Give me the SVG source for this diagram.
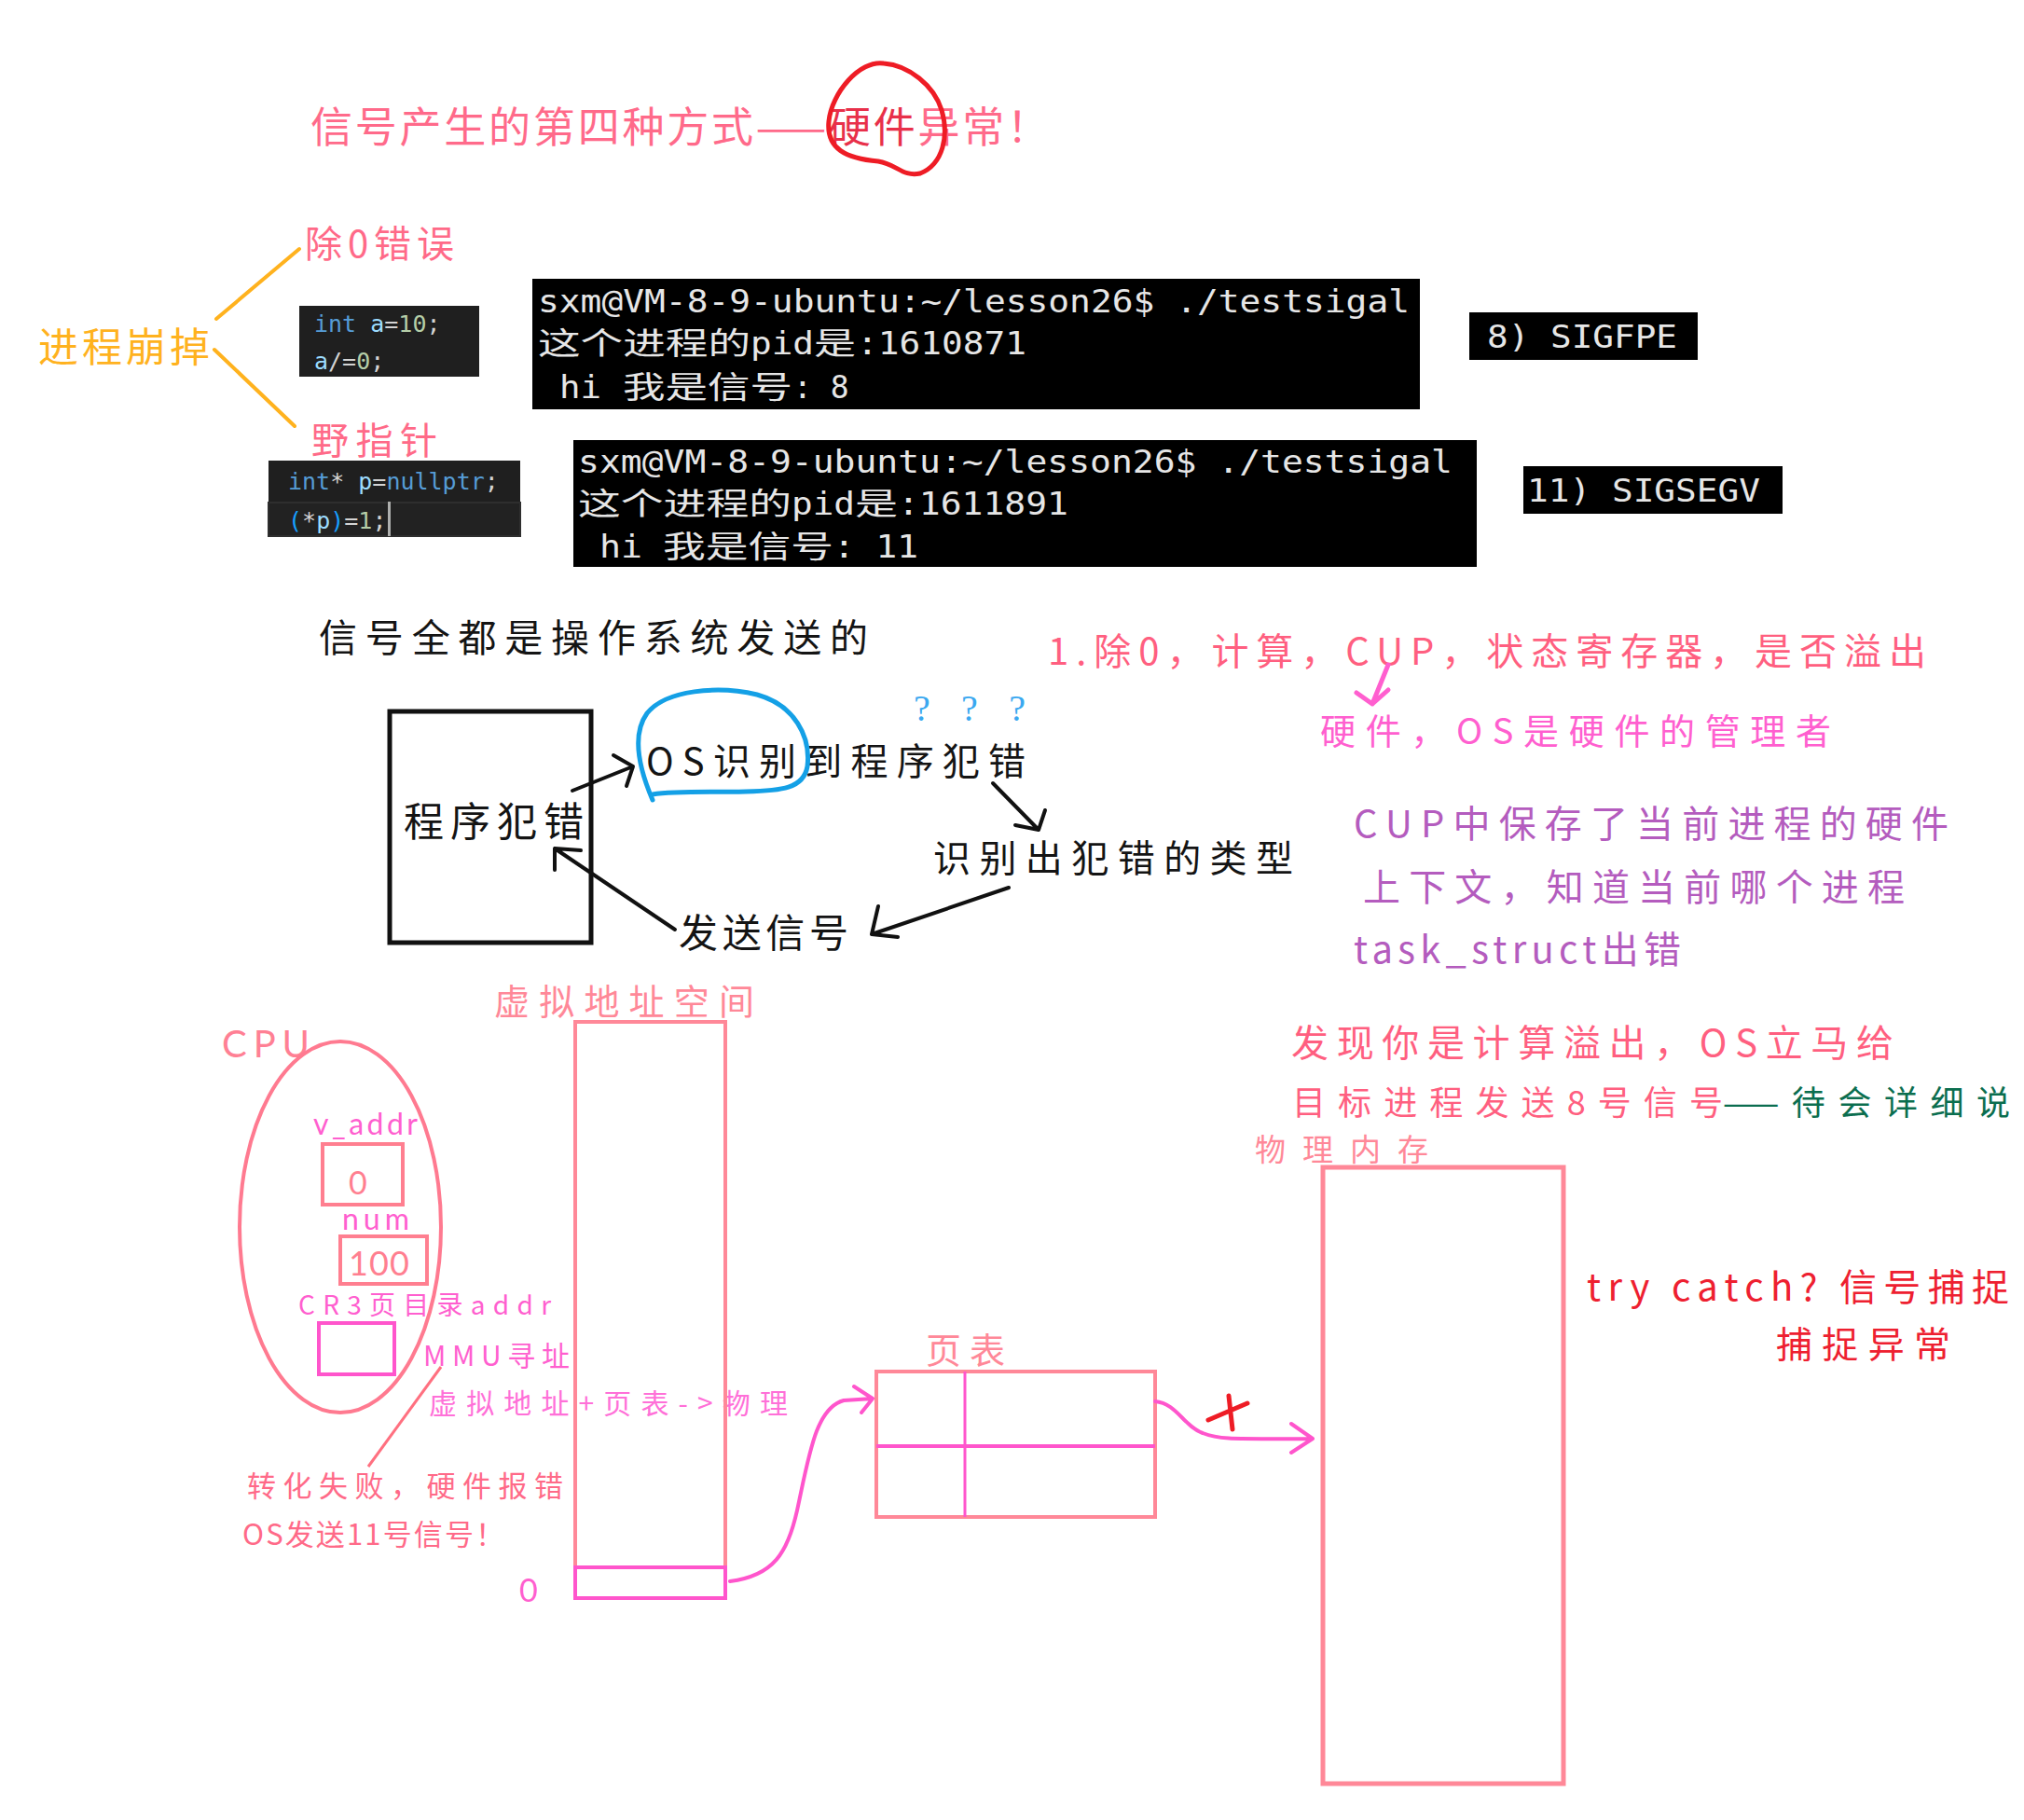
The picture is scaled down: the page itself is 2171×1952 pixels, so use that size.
<svg xmlns="http://www.w3.org/2000/svg" width="2171" height="1952" viewBox="0 0 2171 1952">
<style>
.hw{font-family:"Noto Sans CJK SC","Noto Sans",sans-serif;}
.lat{font-family:Lato,"Noto Sans",sans-serif;}
.mono{font-family:"DejaVu Sans Mono","Noto Sans CJK SC",monospace;}
.term{fill:#e6e6e6;font-size:33px;}
.code{font-size:25px;}
.pk{fill:#ff6a88;}
.mg{fill:#ff5fcf;}
.lp{fill:#ff8898;}
.pu{fill:#b45cbe;}
.bk{fill:#141414;}
.rd{fill:#ee2030;}
.kw{fill:#569cd6;}
.vr{fill:#9cdcfe;}
.nm{fill:#b5cea8;}
.op{fill:#d4d4d4;}
.br{fill:#179fff;}
.box{fill:none;stroke:#ff8898;stroke-width:4;}
.mbox{fill:none;stroke:#ff55cc;stroke-width:4;}
.blk{fill:none;stroke:#111;stroke-width:4;stroke-linecap:round;stroke-linejoin:round;}
</style>
<rect width="2171" height="1952" fill="#ffffff"/>

<g id="title">
<text class="hw" x="333" y="153" font-size="45" textLength="792" fill="#ff6a8a">信号产生的第四种方式——<tspan fill="#e8304a">硬件</tspan>异常！</text>
<path d="M948,68 C975,70 1002,92 1010,118 C1018,145 1012,176 987,186 C968,190 962,176 942,173 C908,170 886,160 889,130 C892,100 922,64 948,68 Z" fill="none" stroke="#ee1c25" stroke-width="5"/>
</g>

<g id="crash">
<text class="hw" x="41" y="388" font-size="43" textLength="184" fill="#ffb21e">进程崩掉</text>
<text class="hw pk" x="327" y="276" font-size="40" textLength="160">除0错误</text>
<text class="hw pk" x="334" y="487" font-size="40" textLength="135">野指针</text>
</g>

<g id="code1">
<rect x="321" y="328" width="193" height="76" fill="#1f1f1f"/>
<text class="mono code" x="337" y="356"><tspan class="kw">int</tspan><tspan class="op"> </tspan><tspan class="vr">a</tspan><tspan class="op">=</tspan><tspan class="nm">10</tspan><tspan class="op">;</tspan></text>
<text class="mono code" x="337" y="396"><tspan class="vr">a</tspan><tspan class="op">/=</tspan><tspan class="nm">0</tspan><tspan class="op">;</tspan></text>
</g>

<g id="code2">
<rect x="288" y="494" width="270" height="82" fill="#1f1f1f"/>
<rect x="288" y="539" width="270" height="36" fill="#222222" stroke="#2e2e2e" stroke-width="2"/>
<text class="mono code" x="309" y="525"><tspan class="kw">int</tspan><tspan class="op">* </tspan><tspan class="vr">p</tspan><tspan class="op">=</tspan><tspan class="kw">nullptr</tspan><tspan class="op">;</tspan></text>
<text class="mono code" x="309" y="567"><tspan class="br">(</tspan><tspan class="op">*</tspan><tspan class="vr">p</tspan><tspan class="br">)</tspan><tspan class="op">=</tspan><tspan class="nm">1</tspan><tspan class="op">;</tspan></text>
<rect x="416" y="538" width="3" height="37" fill="#aeafad"/>
</g>

<g id="terminal1">
<rect x="571" y="299" width="952" height="140" fill="#000"/>
<text class="mono term" x="577" y="335" textLength="935" lengthAdjust="spacingAndGlyphs">sxm@VM-8-9-ubuntu:~/lesson26$ ./testsigal</text>
<text class="mono term" x="577" y="380" textLength="228" lengthAdjust="spacingAndGlyphs">这个进程的</text>
<text class="mono term" x="805" y="380" textLength="68" lengthAdjust="spacingAndGlyphs">pid</text>
<text class="mono term" x="873" y="380" textLength="45" lengthAdjust="spacingAndGlyphs">是</text>
<text class="mono term" x="919" y="380" textLength="182" lengthAdjust="spacingAndGlyphs">:1610871</text>
<text class="mono term" x="600" y="427" textLength="45" lengthAdjust="spacingAndGlyphs">hi</text>
<text class="mono term" x="668" y="427" textLength="182" lengthAdjust="spacingAndGlyphs">我是信号</text>
<text class="mono term" x="851" y="427">: 8</text>
</g>

<g id="terminal2">
<rect x="615" y="472" width="969" height="136" fill="#000"/>
<text class="mono term" x="620" y="507" textLength="938" lengthAdjust="spacingAndGlyphs">sxm@VM-8-9-ubuntu:~/lesson26$ ./testsigal</text>
<text class="mono term" x="620" y="552" textLength="229" lengthAdjust="spacingAndGlyphs">这个进程的</text>
<text class="mono term" x="849" y="552" textLength="68" lengthAdjust="spacingAndGlyphs">pid</text>
<text class="mono term" x="917" y="552" textLength="46" lengthAdjust="spacingAndGlyphs">是</text>
<text class="mono term" x="963" y="552" textLength="183" lengthAdjust="spacingAndGlyphs">:1611891</text>
<text class="mono term" x="643" y="598" textLength="46" lengthAdjust="spacingAndGlyphs">hi</text>
<text class="mono term" x="711" y="598" textLength="183" lengthAdjust="spacingAndGlyphs">我是信号</text>
<text class="mono term" x="894" y="598" textLength="91" lengthAdjust="spacingAndGlyphs">: 11</text>
</g>

<g id="sig8">
<rect x="1576" y="335" width="245" height="51" fill="#000"/>
<text class="mono term" x="1595" y="373" textLength="204" lengthAdjust="spacingAndGlyphs">8) SIGFPE</text>
</g>
<g id="sig11">
<rect x="1634" y="500" width="278" height="51" fill="#000"/>
<text class="mono term" x="1638" y="538" textLength="250" lengthAdjust="spacingAndGlyphs">11) SIGSEGV</text>
</g>

<g id="flow">
<text class="hw bk" x="342" y="699" font-size="41" textLength="589">信号全都是操作系统发送的</text>
<g id="prog-box">
<rect x="418" y="763" width="216" height="248" fill="none" stroke="#111" stroke-width="5"/>
<text class="hw bk" x="433" y="897" font-size="43" textLength="193">程序犯错</text>
</g>
<g id="os-detect">
<text class="hw bk" x="693" y="831" font-size="40" textLength="407">OS识别到程序犯错</text>
<path d="M700,858 C688,830 676,790 694,765 C714,740 770,735 812,745 C852,756 870,790 866,822 C862,846 838,848 800,849 C760,850 725,848 700,852" fill="none" stroke="#14a0e6" stroke-width="5" stroke-linecap="round"/>
<text x="980" y="773" font-family="Liberation Serif, serif" font-size="40" textLength="120" fill="#3aa8f0">? ? ?</text>
</g>
<g id="type">
<text class="hw bk" x="1001" y="935" font-size="40" textLength="386">识别出犯错的类型</text>
</g>
<g id="send">
<text class="hw bk" x="728" y="1016" font-size="42" textLength="182">发送信号</text>
</g>
</g>

<g id="hw-notes">
<text class="hw" x="1124" y="713" font-size="40" textLength="942" fill="#ff5f80">1.除0，计算，CUP，状态寄存器，是否溢出</text>
<text class="hw mg" x="1416" y="798" font-size="38" textLength="548">硬件，OS是硬件的管理者</text>
<text class="hw pu" x="1452" y="898" font-size="40" textLength="638">CUP中保存了当前进程的硬件</text>
<text class="hw pu" x="1462" y="966" font-size="40" textLength="581">上下文，知道当前哪个进程</text>
<text class="hw pu" x="1452" y="1033" font-size="40" textLength="351">task_struct出错</text>
</g>

<g id="cpu">
<text class="lat" x="238" y="1134" font-size="40" textLength="94" fill="#ff8094">CPU</text>
<ellipse cx="365" cy="1316" rx="108" ry="199" fill="none" stroke="#ff7a90" stroke-width="4"/>
<text class="lat mg" x="336" y="1217" font-size="32" textLength="112">v_addr</text>
<rect x="346" y="1227" width="86" height="65" fill="none" stroke="#ff7f90" stroke-width="4"/>
<text class="lat" x="374" y="1281" font-size="34" fill="#ff7f90">0</text>
<text class="lat mg" x="367" y="1319" font-size="32" textLength="72">num</text>
<rect x="365" y="1326" width="93" height="51" fill="none" stroke="#ff7f90" stroke-width="4"/>
<text class="lat" x="374" y="1368" font-size="36" textLength="65" fill="#ff7f90">100</text>
<text class="hw mg" x="320" y="1410" font-size="28" textLength="271">CR3页目录addr</text>
<rect x="342" y="1419" width="81" height="55" class="mbox"/>
<text class="hw mg" x="454" y="1465" font-size="30" textLength="157">MMU寻址</text>
<text class="hw" x="460" y="1516" font-size="30" textLength="385" fill="#ff70d8">虚拟地址+页表->物理</text>
<text class="hw pk" x="265" y="1605" font-size="31" textLength="339">转化失败，硬件报错</text>
<text class="hw pk" x="260" y="1657" font-size="31" textLength="281">OS发送11号信号！</text>
</g>

<g id="vspace">
<text class="hw lp" x="530" y="1088" font-size="38" textLength="279">虚拟地址空间</text>
<rect x="617" y="1096" width="161" height="618" class="box"/>
<rect x="617" y="1681" width="161" height="33" class="mbox"/>
<text class="lat mg" x="557" y="1718" font-size="34">0</text>
</g>

<g id="pagetable">
<text class="hw lp" x="993" y="1462" font-size="38" textLength="85">页表</text>
<rect x="940" y="1471" width="299" height="156" class="box"/>
<line x1="1035" y1="1471" x2="1035" y2="1627" stroke="#ff55cc" stroke-width="3"/>
<line x1="940" y1="1551" x2="1239" y2="1551" stroke="#ff55cc" stroke-width="4"/>
</g>

<g id="physmem">
<text class="hw lp" x="1346" y="1245" font-size="33" textLength="186">物理内存</text>
<rect x="1419" y="1252" width="258" height="661" fill="none" stroke="#ff8898" stroke-width="5"/>
</g>

<g id="overflow-notes">
<text class="hw" x="1385" y="1133" font-size="40" textLength="646" fill="#ff5f80">发现你是计算溢出，OS立马给</text>
<text class="hw" x="1386" y="1196" font-size="36" textLength="462" fill="#ff5f80">目标进程发送8号信号</text>
<text class="hw" x="1848" y="1196" font-size="36" textLength="308" fill="#0b6e4f">——待会详细说</text>
<text class="hw rd" x="1702" y="1395" font-size="40" textLength="453">try catch? 信号捕捉</text>
<text class="hw rd" x="1905" y="1456" font-size="39" textLength="187">捕捉异常</text>
</g>

<g id="connectors">
<line x1="232" y1="342" x2="321" y2="267" stroke="#ffb21e" stroke-width="4" stroke-linecap="round"/>
<line x1="230" y1="375" x2="316" y2="457" stroke="#ffb21e" stroke-width="4" stroke-linecap="round"/>
<path class="blk" d="M614,848 L679,822 M658,810 L679,822 L672,843"/>
<path class="blk" d="M1065,840 L1114,890 M1089,885 L1114,890 L1121,869"/>
<path class="blk" d="M1082,952 L935,1002 M942,972 L935,1002 L963,1005"/>
<path class="blk" d="M724,997 L595,910 M623,912 L595,910 L595,933"/>
<path d="M1489,713 L1472,755 M1455,743 L1472,755 L1489,740" fill="none" stroke="#ff5fcf" stroke-width="5" stroke-linecap="round" stroke-linejoin="round"/>
<line x1="473" y1="1466" x2="395" y2="1573" stroke="#ff7080" stroke-width="3"/>
<path d="M783,1696 C830,1690 845,1665 855,1620 C868,1560 875,1510 905,1502 L936,1500 M916,1487 L936,1500 L924,1515" fill="none" stroke="#ff55cc" stroke-width="4" stroke-linecap="round" stroke-linejoin="round"/>
<path d="M1239,1503 C1262,1505 1270,1530 1290,1537 C1310,1545 1330,1543 1408,1543 M1385,1527 L1408,1543 L1385,1558" fill="none" stroke="#ff55cc" stroke-width="4" stroke-linecap="round" stroke-linejoin="round"/>
<path d="M1318,1497 L1322,1533 M1296,1523 L1338,1505" fill="none" stroke="#ee1c25" stroke-width="5" stroke-linecap="round"/>
</g>
</svg>
